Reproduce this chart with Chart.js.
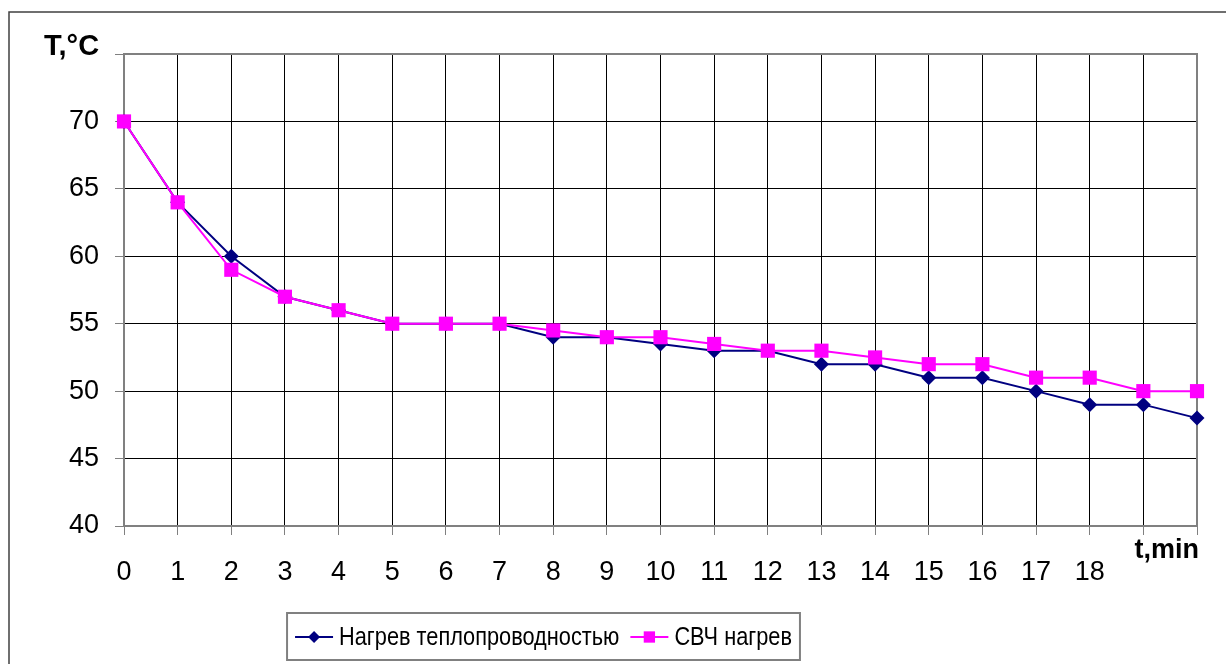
<!DOCTYPE html>
<html>
<head>
<meta charset="utf-8">
<script src="https://cdn.jsdelivr.net/npm/chart.js@4.4.1/dist/chart.umd.min.js"></script>
<style>
  html, body { margin: 0; padding: 0; background: #fff; }
  #wrap { position: relative; width: 1226px; height: 664px; }
</style>
</head>
<body>
<div id="wrap"><canvas id="chart" width="1226" height="664"></canvas></div>
<script>
"use strict";

// ─── Data ─────────────────────────────────────────────────────────────────
const minutes = [0, 1, 2, 3, 4, 5, 6, 7, 8, 9, 10, 11, 12, 13, 14, 15, 16, 17, 18, 19, 20];
const conductionTemp = [70, 64, 60, 57, 56, 55, 55, 55, 54, 54, 53.5, 53, 53, 52, 52, 51, 51, 50, 49, 49, 48];
const microwaveTemp  = [70, 64, 59, 57, 56, 55, 55, 55, 54.5, 54, 54, 53.5, 53, 53, 52.5, 52, 52, 51, 51, 50, 50];

const seriesLabels = ["Нагрев теплопроводностью", "СВЧ нагрев"];
const yTitle = "T,°C";
const xTitle = "t,min";
const lastXLabel = 18;

const FONT = "'Liberation Sans', Arial, sans-serif";
const NAVY = "#000080";
const MAGENTA = "#FF00FF";
const FRAME = "#808080";

function toPoints(ys) {
  return minutes.map((x, i) => ({ x: x, y: ys[i] }));
}

// ─── Plugins ──────────────────────────────────────────────────────────────

// plot frame, outer frame and axis titles
const decorPlugin = {
  id: "decor",
  beforeDatasetsDraw(chart) {
    const ctx = chart.ctx;
    const a = chart.chartArea;
    ctx.save();
    ctx.strokeStyle = FRAME;
    ctx.lineWidth = 2;
    ctx.strokeRect(a.left, a.top, a.right - a.left, a.bottom - a.top);
    ctx.restore();
  },
  afterDraw(chart) {
    const ctx = chart.ctx;
    ctx.save();
    // outer chart border (only top and left are in view)
    ctx.strokeStyle = "#404040";
    ctx.lineWidth = 1.5;
    ctx.beginPath();
    ctx.moveTo(9, 664);
    ctx.lineTo(9, 12);
    ctx.lineTo(1226, 12);
    ctx.stroke();

    ctx.fillStyle = "#000";
    ctx.font = "bold 29px " + FONT;
    ctx.textAlign = "left";
    ctx.textBaseline = "alphabetic";
    ctx.fillText(yTitle, 44, 55);

    ctx.font = "bold 27px " + FONT;
    ctx.textAlign = "right";
    ctx.fillText(xTitle, 1199, 558);
    ctx.restore();
  },
};

// boxed legend, line + marker swatches (text a bit condensed like the original)
const legendPlugin = {
  id: "boxLegend",
  afterDraw(chart) {
    const ctx = chart.ctx;
    const sw = 38, gapA = 6, gapB = 11, pad = 8, squeeze = 0.87;
    ctx.save();
    ctx.font = "25px " + FONT;
    const widths = seriesLabels.map((t) => ctx.measureText(t).width * squeeze);
    let total = pad * 2;
    widths.forEach((w, i) => { total += sw + gapA + w + (i < widths.length - 1 ? gapB : 0); });

    const cx = 543.5, top = 613, h = 47;
    const left = cx - total / 2;
    ctx.strokeStyle = FRAME;
    ctx.lineWidth = 2;
    ctx.strokeRect(left, top, total, h);

    const cy = top + 24;
    let x = left + pad;
    [1, 0].forEach((dsIndex, k) => {
      const ds = chart.data.datasets[dsIndex];
      ctx.strokeStyle = ds.borderColor;
      ctx.fillStyle = ds.backgroundColor;
      ctx.lineWidth = 2;
      ctx.beginPath();
      ctx.moveTo(x, cy);
      ctx.lineTo(x + sw, cy);
      ctx.stroke();
      Chart.helpers.drawPoint(ctx, {
        pointStyle: ds.pointStyle,
        radius: ds.pointRadius * 0.8,
        rotation: 0,
        borderWidth: 0,
      }, x + sw / 2, cy);
      ctx.save();
      ctx.translate(x + sw + gapA, cy + 8);
      ctx.scale(squeeze, 1);
      ctx.fillStyle = "#000";
      ctx.textAlign = "left";
      ctx.textBaseline = "alphabetic";
      ctx.fillText(seriesLabels[k], 0, 0);
      ctx.restore();
      x += sw + gapA + widths[k] + gapB;
    });
    ctx.restore();
  },
};

// ─── Chart ────────────────────────────────────────────────────────────────

new Chart(document.getElementById("chart").getContext("2d"), {
  type: "line",
  data: {
    datasets: [
      {
        label: seriesLabels[1],
        data: toPoints(microwaveTemp),
        borderColor: MAGENTA,
        backgroundColor: MAGENTA,
        borderWidth: 2,
        pointStyle: "rect",
        pointRadius: 10,
        pointBorderWidth: 0,
        tension: 0,
        clip: false,
        order: 0,
      },
      {
        label: seriesLabels[0],
        data: toPoints(conductionTemp),
        borderColor: NAVY,
        backgroundColor: NAVY,
        borderWidth: 2,
        pointStyle: "rectRot",
        pointRadius: 7.5,
        pointBorderWidth: 0,
        tension: 0,
        clip: false,
        order: 1,
      },
    ],
  },
  options: {
    responsive: false,
    animation: false,
    events: [],
    layout: { padding: { top: 54, right: 29, left: 0, bottom: 0 } },
    scales: {
      x: {
        type: "linear",
        min: 0,
        max: 20,
        afterFit: (s) => { s.height = 138; },
        grid: { color: "#000", lineWidth: 1, tickColor: FRAME, tickLength: 9 },
        border: { display: false },
        ticks: {
          stepSize: 1,
          autoSkip: false,
          maxRotation: 0,
          padding: 21,
          color: "#000",
          font: { family: FONT, size: 27 },
          callback: (v) => (v <= lastXLabel ? String(v) : ""),
        },
      },
      y: {
        min: 40,
        max: 75,
        afterFit: (s) => { s.width = 124; },
        grid: { color: "#000", lineWidth: 1, tickColor: FRAME, tickLength: 9 },
        border: { display: false },
        ticks: {
          stepSize: 5,
          padding: 16,
          color: "#000",
          font: { family: FONT, size: 27 },
          callback: (v) => (v < 75 ? String(v) : ""),
        },
      },
    },
    plugins: {
      legend: { display: false },
      tooltip: { enabled: false },
    },
  },
  plugins: [decorPlugin, legendPlugin],
});
</script>
</body>
</html>
